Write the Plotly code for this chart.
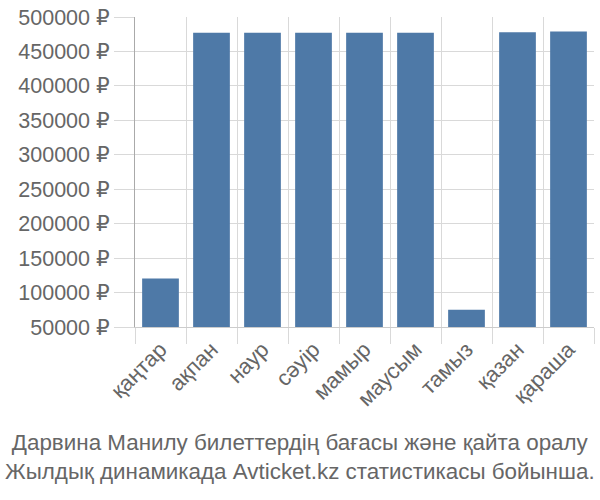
import plotly.graph_objects as go

months = ["қаңтар", "ақпан", "наур", "сәуір", "мамыр", "маусым", "тамыз", "қазан", "қараша"]
prices = [120500, 477000, 477000, 477000, 477000, 477000, 75000, 478000, 479000]
y_ticks = [50000 * i for i in range(1, 11)]
y_labels = [f"{v} ₽" for v in y_ticks]
title_lines = ["Дарвина Манилу билеттердің бағасы және қайта оралу",
               "Жылдық динамикада Avticket.kz статистикасы бойынша."]

FONT = "Liberation Sans, DejaVu Sans, Arial, sans-serif"
GREY = "#666666"

fig = go.Figure(go.Bar(x=months, y=prices, marker=dict(color="#4E79A7", line=dict(width=0))))

fig.update_layout(
    width=600, height=500,
    margin=dict(l=135, r=6, t=14, b=173),
    plot_bgcolor="white", paper_bgcolor="white",
    bargap=0.28,
    showlegend=False,
    font=dict(family=FONT, color=GREY, size=21),
)
fig.update_yaxes(
    range=[50000, 500000], tickmode="array", tickvals=y_ticks, ticktext=y_labels,
    showgrid=True, gridcolor="#d9d9d9", gridwidth=1,
    ticks="outside", ticklen=20, tickcolor="#d9d9d9",
    showline=True, linecolor="#aaaaaa", linewidth=1,
    zeroline=False, tickfont=dict(size=21.5, color=GREY),
)
fig.update_xaxes(
    tickangle=-45, tickson="boundaries",
    showgrid=True, gridcolor="#d9d9d9", gridwidth=1,
    ticks="outside", ticklen=16, tickcolor="#d9d9d9",
    showline=True, linecolor="#cccccc",
    tickfont=dict(size=22, color=GREY),
)
fig.add_annotation(
    text="<br>".join(title_lines), xref="paper", yref="paper",
    x=(300 - 135) / 459, xanchor="center", y=-0.325, yanchor="top",
    showarrow=False, font=dict(size=22.4, color=GREY, family=FONT), align="center",
)
fig.write_html("out.html")
